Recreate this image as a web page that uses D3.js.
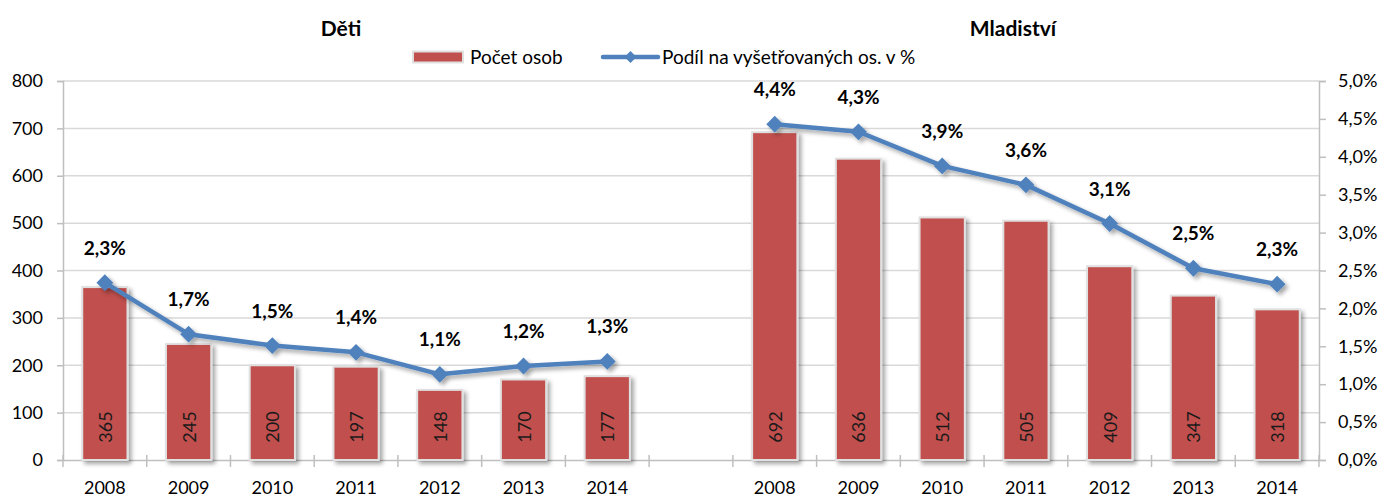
<!DOCTYPE html>
<html>
<head>
<meta charset="utf-8">
<script src="https://cdn.jsdelivr.net/npm/d3@7"></script>
<style>
  body { margin: 0; background: #fff; }
  svg { font-family: Lato, "Open Sans", sans-serif; }
</style>
</head>
<body>
<script>
const width = 1386;
const height = 497;
let margin = {top: 81, right: 67, bottom: 37, left: 63};

// data
const years = ["2008", "2009", "2010", "2011", "2012", "2013", "2014"];
const groupTitles = ["Děti", "Mladiství"];
const detiCount = [365, 245, 200, 197, 148, 170, 177];
const detiShare = [2.34, 1.66, 1.51, 1.42, 1.13, 1.24, 1.30];
const mladCount = [692, 636, 512, 505, 409, 347, 318];
const mladShare = [4.43, 4.33, 3.88, 3.63, 3.12, 2.53, 2.32];
const countTicks = [0, 100, 200, 300, 400, 500, 600, 700, 800];
const shareTicks = [0, 0.5, 1, 1.5, 2, 2.5, 3, 3.5, 4, 4.5, 5];
const legendLabels = ["Počet osob", "Podíl na vyšetřovaných os. v %"];

const barColor = "#C0504D";
const lineColor = "#4F81BD";
const gridColor = "#D9D9D9";

// one key per slot, with an empty slot between the two groups
let deti = years.map((y, i) => ({key: "D" + y, year: y, count: detiCount[i], share: detiShare[i]}));
let mlad = years.map((y, i) => ({key: "M" + y, year: y, count: mladCount[i], share: mladShare[i]}));
let keys = deti.map(d => d.key).concat(["gap"], mlad.map(d => d.key));

let svg = d3.select("body").append("svg")
    .attr("width", width)
    .attr("height", height);

let defs = svg.append("defs");
let shadow = defs.append("filter").attr("id", "shadow")
    .attr("x", "-20%").attr("y", "-20%").attr("width", "150%").attr("height", "150%");
shadow.append("feDropShadow")
    .attr("dx", 3).attr("dy", 3).attr("stdDeviation", 2)
    .attr("flood-color", "#000").attr("flood-opacity", 0.35);

let xScale = d3.scaleBand()
    .domain(keys)
    .range([margin.left, width - margin.right]);

let yScale = d3.scaleLinear()
    .domain([0, 800])
    .range([height - margin.bottom, margin.top]);

let y2Scale = d3.scaleLinear()
    .domain([0, 5])
    .range([height - margin.bottom, margin.top]);

const x0 = margin.left, x1 = width - margin.right, yBase = yScale(0);

// gridlines
svg.append("g")
    .selectAll("line")
    .data(countTicks.slice(1))
    .join("line")
    .attr("x1", x0).attr("x2", x1)
    .attr("y1", d => yScale(d)).attr("y2", d => yScale(d))
    .attr("stroke", gridColor).attr("stroke-width", 1.5);

// left axis
let leftAxis = d3.axisLeft(yScale).tickValues(countTicks).tickSize(6).tickPadding(14);
let leftG = svg.append("g").attr("transform", `translate(${x0},0)`).call(leftAxis);

// right axis
let fmtPct = d => d3.format(".1f")(d).replace(".", ",") + "%";
let rightAxis = d3.axisRight(y2Scale).tickValues(shareTicks).tickSize(7).tickPadding(12).tickFormat(fmtPct);
let rightG = svg.append("g").attr("transform", `translate(${x1},0)`).call(rightAxis);

// bottom axis
let bottomAxis = d3.axisBottom(xScale).tickSize(0).tickPadding(21)
    .tickFormat(k => k === "gap" ? "" : k.slice(1));
let bottomG = svg.append("g").attr("transform", `translate(0,${yBase})`).call(bottomAxis);

// boundary ticks between categories
svg.append("g")
    .selectAll("line")
    .data(keys.map(k => xScale(k)).concat([x1]))
    .join("line")
    .attr("x1", d => d).attr("x2", d => d)
    .attr("y1", yBase - 5).attr("y2", yBase + 7)
    .attr("stroke", "#BFBFBF").attr("stroke-width", 1.5);

[leftG, rightG, bottomG].forEach(g => {
    g.selectAll(".domain").attr("stroke", "#BFBFBF").attr("stroke-width", 1.5);
    g.selectAll(".tick line").attr("stroke", "#BFBFBF").attr("stroke-width", 1.5);
    g.selectAll("text").attr("font-size", 18).attr("fill", "#000")
        .attr("font-family", "Lato, 'Open Sans', sans-serif");
});

// bars and lines for each group
let barW = xScale.bandwidth() / 1.85;
[deti, mlad].forEach(items => {
    let cx = d => xScale(d.key) + xScale.bandwidth() / 2;

    svg.append("g")
        .selectAll("rect")
        .data(items)
        .join("rect")
        .attr("x", d => cx(d) - barW / 2)
        .attr("y", d => yScale(d.count))
        .attr("width", barW)
        .attr("height", d => yBase - yScale(d.count))
        .attr("fill", barColor)
        .attr("stroke", "#E0E0E0")
        .attr("stroke-width", 2)
        .attr("filter", "url(#shadow)");

    // value labels inside bars, rotated
    svg.append("g")
        .selectAll("text")
        .data(items)
        .join("text")
        .attr("transform", d => `translate(${cx(d) + 7},${yBase - 33}) rotate(-90)`)
        .attr("text-anchor", "middle")
        .attr("font-size", 18)
        .attr("fill", "#1a1a1a")
        .text(d => d.count);

    let line = d3.line()
        .x(cx)
        .y(d => y2Scale(d.share));

    let lg = svg.append("g").attr("filter", "url(#shadow)");
    lg.append("path")
        .datum(items)
        .attr("d", line)
        .attr("fill", "none")
        .attr("stroke", lineColor)
        .attr("stroke-width", 4.5)
        .attr("stroke-linejoin", "round");
    lg.selectAll("path.marker")
        .data(items)
        .join("path")
        .attr("class", "marker")
        .attr("d", d3.symbol(d3.symbolDiamond2, 180))
        .attr("transform", d => `translate(${cx(d)},${y2Scale(d.share)})`)
        .attr("fill", lineColor);

    svg.append("g")
        .selectAll("text")
        .data(items)
        .join("text")
        .attr("x", cx)
        .attr("y", d => y2Scale(d.share) - 28)
        .attr("text-anchor", "middle")
        .attr("font-size", 19)
        .attr("font-weight", "bold")
        .attr("fill", "#000")
        .text(d => fmtPct(d.share));
});

// group titles
svg.selectAll("text.title")
    .data(groupTitles)
    .join("text")
    .attr("class", "title")
    .attr("x", (d, i) => i === 0 ? 341 : 1013)
    .attr("y", 36)
    .attr("text-anchor", "middle")
    .attr("font-size", 21)
    .attr("font-weight", "bold")
    .text(d => d);

// legend
let legend = svg.append("g").attr("transform", "translate(413,57)");
legend.append("rect")
    .attr("x", 0).attr("y", -5.5).attr("width", 50).attr("height", 11)
    .attr("fill", barColor).attr("stroke", "#E0E0E0").attr("stroke-width", 2);
legend.append("text")
    .attr("x", 57).attr("y", 7).attr("font-size", 19).text(legendLabels[0]);
legend.append("line")
    .attr("x1", 190).attr("x2", 245).attr("y1", 0).attr("y2", 0)
    .attr("stroke", lineColor).attr("stroke-width", 4.5).attr("stroke-linecap", "round");
legend.append("path")
    .attr("d", d3.symbol(d3.symbolDiamond2, 90))
    .attr("transform", "translate(217.5,0)")
    .attr("fill", lineColor);
legend.append("text")
    .attr("x", 249).attr("y", 7).attr("font-size", 19).text(legendLabels[1]);
</script>
</body>
</html>
